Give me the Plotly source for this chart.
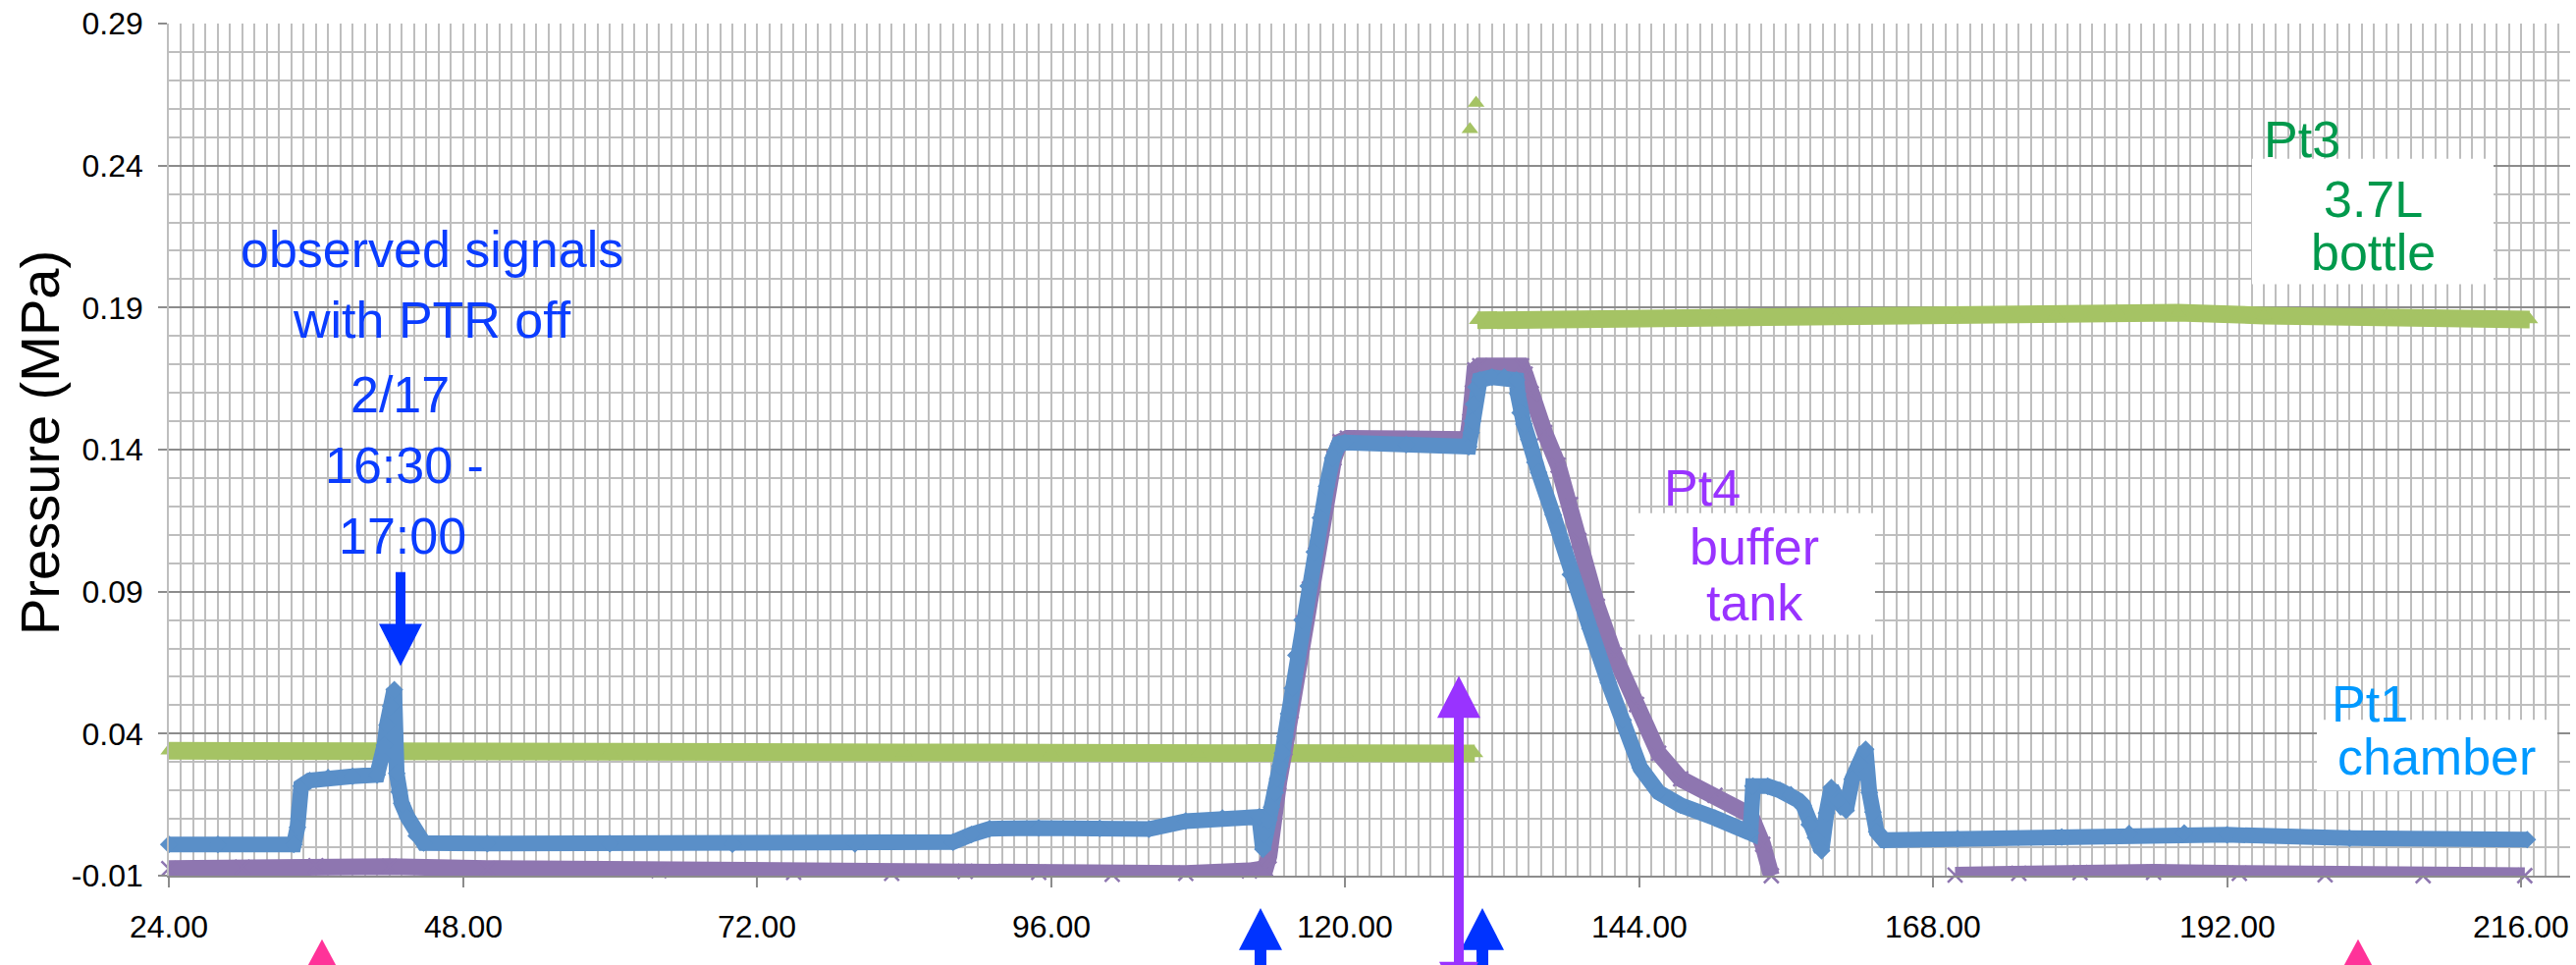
import plotly.graph_objects as go

# ------------------------------------------------------------------ data
# Pt1 (chamber) : hours, MPa
pt1_hours = [24.0, 28.0, 34.2, 34.5, 34.8, 35.5, 37.0, 39.0, 41.0, 41.4,
             41.6, 41.8, 42.1, 42.4, 42.6, 42.8, 43.0, 43.5, 44.2, 44.8,
             50.0, 60.0, 70.0, 80.0, 88.0, 89.5, 91.0, 95.0, 100.0, 104.0,
             107.0, 110.0, 113.0, 113.3, 113.4, 113.8, 114.0, 114.3, 114.5, 114.7,
             114.9, 115.1, 115.4, 115.7, 116.0, 116.5, 117.0, 117.5, 118.0, 118.5,
             119.0, 119.5, 120.0, 125.0, 130.1, 130.3, 130.4, 130.5, 130.7, 131.0,
             132.0, 133.0, 134.0, 134.1, 134.3, 134.6, 135.0, 135.5, 135.8, 137.0,
             138.4, 140.0, 141.5, 142.7, 144.1, 145.6, 147.4, 150.2, 153.1, 153.3,
             154.5, 155.5, 156.4, 157.0, 157.4, 157.9, 158.4, 158.9, 159.3, 159.7,
             160.3, 160.9, 161.4, 162.0, 162.5, 162.8, 163.1, 163.4, 164.0, 170.0,
             178.5, 184.0, 188.5, 192.0, 202.0, 216.5]
pt1_mpa = [0.0010, 0.0010, 0.0010, 0.0070, 0.0215, 0.0235, 0.0245, 0.0250, 0.0255, 0.0310,
           0.0360, 0.0430, 0.0497, 0.0555, 0.0260, 0.0195, 0.0155, 0.0105, 0.0040, 0.0015,
           0.0013, 0.0013, 0.0011, 0.0012, 0.0018, 0.0045, 0.0065, 0.0068, 0.0066, 0.0064,
           0.0092, 0.0103, 0.0107, -0.0007, 0.0045, 0.0097, 0.0141, 0.0193, 0.0241, 0.0286,
           0.0331, 0.0390, 0.0470, 0.0560, 0.0676, 0.0800, 0.0920, 0.1040, 0.1160, 0.1270,
           0.1370, 0.1420, 0.1425, 0.1418, 0.1410, 0.1460, 0.1500, 0.1560, 0.1620, 0.1645,
           0.1655, 0.1655, 0.1645, 0.1597, 0.1530, 0.1490, 0.1435, 0.1355, 0.1320, 0.1170,
           0.0960, 0.0770, 0.0580, 0.0448, 0.0280, 0.0193, 0.0148, 0.0103, 0.0050, 0.0215,
           0.0215, 0.0200, 0.0185, 0.0165, 0.0148, 0.0080, 0.0034, -0.0012, 0.0120, 0.0210,
           0.0160, 0.0130, 0.0240, 0.0295, 0.0345, 0.0193, 0.0124, 0.0055, 0.0025, 0.0030,
           0.0036, 0.0048, 0.0050, 0.0044, 0.0032, 0.0027]

# Pt3 (3.7L bottle)
pt3_hours = [24.0, 30.0, 40.0, 50.0, 60.0, 72.0, 84.0, 96.0, 108.0, 120.0,
             130.6, 130.4, 130.2, 130.45, 130.7, 130.75, 130.8, 140.0, 150.0, 160.0,
             170.0, 178.0, 183.0, 188.0, 195.0, 205.0, 216.7]
pt3_mpa = [0.0340, 0.0338, 0.0337, 0.0338, 0.0336, 0.0335, 0.0334, 0.0333, 0.0329, 0.0330,
           0.0330, None, 0.2528, None, 0.2620, None, 0.1855, 0.1860, 0.1860, 0.1862,
           0.1866, 0.1872, 0.1888, 0.1882, 0.1872, 0.1865, 0.1858]

# Pt4 (buffer tank)
pt4_hours = [24.0, 30.0, 36.0, 42.0, 50.0, 64.0, 75.0, 83.0, 89.0, 95.0,
             101.0, 107.0, 112.2, 113.5, 113.8, 114.1, 114.6, 115.1, 115.6, 116.1,
             116.6, 117.1, 117.6, 118.1, 118.6, 119.1, 119.6, 120.2, 125.0, 130.0,
             130.2, 130.4, 130.6, 131.0, 134.4, 134.7, 135.2, 136.3, 137.4, 138.4,
             139.1, 140.6, 142.0, 143.8, 145.6, 147.4, 150.2, 153.1, 154.1, 154.8,
             160.0, 169.8, 175.0, 180.0, 186.0, 193.0, 200.0, 208.0, 216.3]
pt4_mpa = [-0.0075, -0.0070, -0.0065, -0.0068, -0.0075, -0.0082, -0.0088, -0.0092, -0.0085, -0.0088,
           -0.0095, -0.0092, -0.0083, -0.0075, -0.0030, 0.0110, 0.0230, 0.0350, 0.0480, 0.0660,
           0.0790, 0.0910, 0.1030, 0.1150, 0.1270, 0.1370, 0.1428, 0.1440, 0.1438, 0.1435,
           0.1500, 0.1600, 0.1680, 0.1695, 0.1695, 0.1666, 0.1597, 0.1460, 0.1345, 0.1207,
           0.1080, 0.0848, 0.0676, 0.0503, 0.0331, 0.0241, 0.0183, 0.0114, 0.0010, -0.0100,
           None, -0.0098, -0.0092, -0.0089, -0.0088, -0.0092, -0.0097, -0.0100, -0.0100]

x_tick_vals = [24, 48, 72, 96, 120, 144, 168, 192, 216]
x_tick_text = ["24.00", "48.00", "72.00", "96.00", "120.00", "144.00", "168.00", "192.00", "216.00"]
y_tick_vals = [-0.01, 0.04, 0.09, 0.14, 0.19, 0.24, 0.29]
y_tick_text = ["-0.01", "0.04", "0.09", "0.14", "0.19", "0.24", "0.29"]

# ------------------------------------------------------------------ style
W, H = 2624, 983
PL, PR, PT, PB = 172, 2618, 22, 892

def fx(px):
    return (px - PL) / (PR - PL)

def fy(py):
    return (PB - py) / (PB - PT)

BLUE = "#5a8fc8"
GREEN = "#a5c364"
PURPLE = "#8e76b0"
MINOR = "#bebebe"
MAJOR = "#8c8c8c"

fig = go.Figure()
fig.add_trace(go.Scatter(
    x=pt3_hours, y=pt3_mpa, mode="lines+markers", name="Pt3",
    line=dict(color=GREEN, width=18), connectgaps=False, cliponaxis=False,
    marker=dict(symbol="triangle-up", size=15, color=GREEN)))
fig.add_trace(go.Scatter(
    x=pt4_hours, y=pt4_mpa, mode="lines+markers", name="Pt4",
    line=dict(color=PURPLE, width=17), connectgaps=False, cliponaxis=False,
    marker=dict(symbol="x-thin", size=15, color=PURPLE,
                line=dict(color=PURPLE, width=2.5))))
fig.add_trace(go.Scatter(
    x=pt1_hours, y=pt1_mpa, mode="lines+markers", name="Pt1",
    line=dict(color=BLUE, width=16), connectgaps=False, cliponaxis=False,
    marker=dict(symbol="diamond", size=14, color=BLUE)))

TICKFONT = dict(family="Liberation Sans, Arial, sans-serif", size=32, color="#000000")
ANNFONT = "Liberation Sans, Arial, sans-serif"

fig.update_xaxes(
    range=[24, 220], tickmode="array", tickvals=x_tick_vals, ticktext=x_tick_text,
    showticklabels=False,
    showgrid=True, gridcolor=MINOR, gridwidth=1.6, zeroline=False,
    showline=True, linecolor=MAJOR, linewidth=2,
    ticks="outside", ticklen=10, tickcolor=MAJOR, tickwidth=2,
    minor=dict(tickmode="linear", tick0=24, dtick=1, showgrid=True,
               gridcolor=MINOR, gridwidth=1.6, ticks=""))
fig.update_yaxes(
    range=[-0.01, 0.29], tickmode="array", tickvals=y_tick_vals, ticktext=y_tick_text,
    showgrid=True, gridcolor=MAJOR, gridwidth=2, zeroline=False,
    showline=True, linecolor=MINOR, linewidth=1.6,
    ticks="outside", ticklen=9, tickcolor=MAJOR, tickwidth=2,
    ticklabelstandoff=9, tickfont=TICKFONT,
    minor=dict(tickmode="linear", tick0=-0.01, dtick=0.01, showgrid=True,
               gridcolor=MINOR, gridwidth=1.6, ticks=""))

shapes = []
# white label boxes
for (x0, y0, x1, y1) in [(2294, 160, 2540, 288), (1665, 522, 1910, 646), (2360, 733, 2605, 805)]:
    shapes.append(dict(type="rect", xref="paper", yref="paper",
                       x0=fx(x0), x1=fx(x1), y0=fy(y1), y1=fy(y0),
                       fillcolor="white", line=dict(width=0), layer="above"))

def poly(points, color):
    d = "M " + " L ".join(f"{fx(px):.6f},{fy(py):.6f}" for px, py in points) + " Z"
    return dict(type="path", xref="paper", yref="paper", path=d,
                fillcolor=color, line=dict(width=0), layer="above")

ARROW_BLUE = "#0033ff"
ARROW_PURPLE = "#9933ff"
PINK = "#ff3399"

# down arrow above the spike
cx = 408
shapes.append(poly([(cx - 5, 582), (cx + 5, 582), (cx + 5, 635), (cx + 22, 635), (cx, 678),
                    (cx - 22, 635), (cx - 5, 635)], ARROW_BLUE))
# up arrows under the axis
for cx in (1284, 1510):
    shapes.append(poly([(cx, 925), (cx + 22, 968), (cx + 6, 968), (cx + 6, 1000),
                        (cx - 6, 1000), (cx - 6, 968), (cx - 22, 968)], ARROW_BLUE))
# purple double arrow
cx = 1486
shapes.append(poly([(cx, 688), (cx + 22, 731), (cx + 5, 731), (cx + 5, 980), (cx + 20, 980),
                    (cx, 1020), (cx - 20, 980), (cx - 5, 980), (cx - 5, 731), (cx - 22, 731)],
                   ARROW_PURPLE))
# pink markers
for cx in (328, 2402):
    shapes.append(poly([(cx, 957), (cx + 21, 996), (cx - 21, 996)], PINK))

annotations = []
# x tick labels (placed explicitly for exact vertical position)
for v, t in zip(x_tick_vals, x_tick_text):
    annotations.append(dict(text=t, xref="x", yref="paper", x=v, y=fy(944),
                            xanchor="center", yanchor="middle", showarrow=False,
                            font=TICKFONT))

def label(text, px, py, color, size=52):
    annotations.append(dict(text=text, xref="paper", yref="paper", x=fx(px), y=fy(py),
                            xanchor="center", yanchor="middle", showarrow=False,
                            font=dict(family=ANNFONT, size=size, color=color)))

TXT_BLUE = "#0a3cff"
label("observed signals", 440, 253, TXT_BLUE)
label("with PTR off", 440, 325, TXT_BLUE)
label("2/17", 407, 401, TXT_BLUE)
label("16:30 -", 412, 473, TXT_BLUE)
label("17:00", 410, 545, TXT_BLUE)
label("Pt4", 1734, 496, "#9933ff")
label("buffer", 1787, 556, "#9933ff")
label("tank", 1787, 613, "#9933ff")
label("Pt3", 2345, 140, "#00994c")
label("3.7L", 2417, 201, "#00994c")
label("bottle", 2417, 256, "#00994c")
label("Pt1", 2414, 717, "#0099ff")
label("chamber", 2482, 771, "#0099ff")

annotations.append(dict(text="Pressure (MPa)", xref="paper", yref="paper",
                        x=fx(40), y=fy(450), xanchor="center", yanchor="middle",
                        textangle=-90, showarrow=False,
                        font=dict(family=ANNFONT, size=56, color="#000000")))

fig.update_layout(
    width=W, height=H, autosize=False,
    margin=dict(l=PL, r=W - PR, t=PT, b=H - PB, pad=0),
    paper_bgcolor="white", plot_bgcolor="white",
    showlegend=False, shapes=shapes, annotations=annotations)

fig.write_html("out.html")
